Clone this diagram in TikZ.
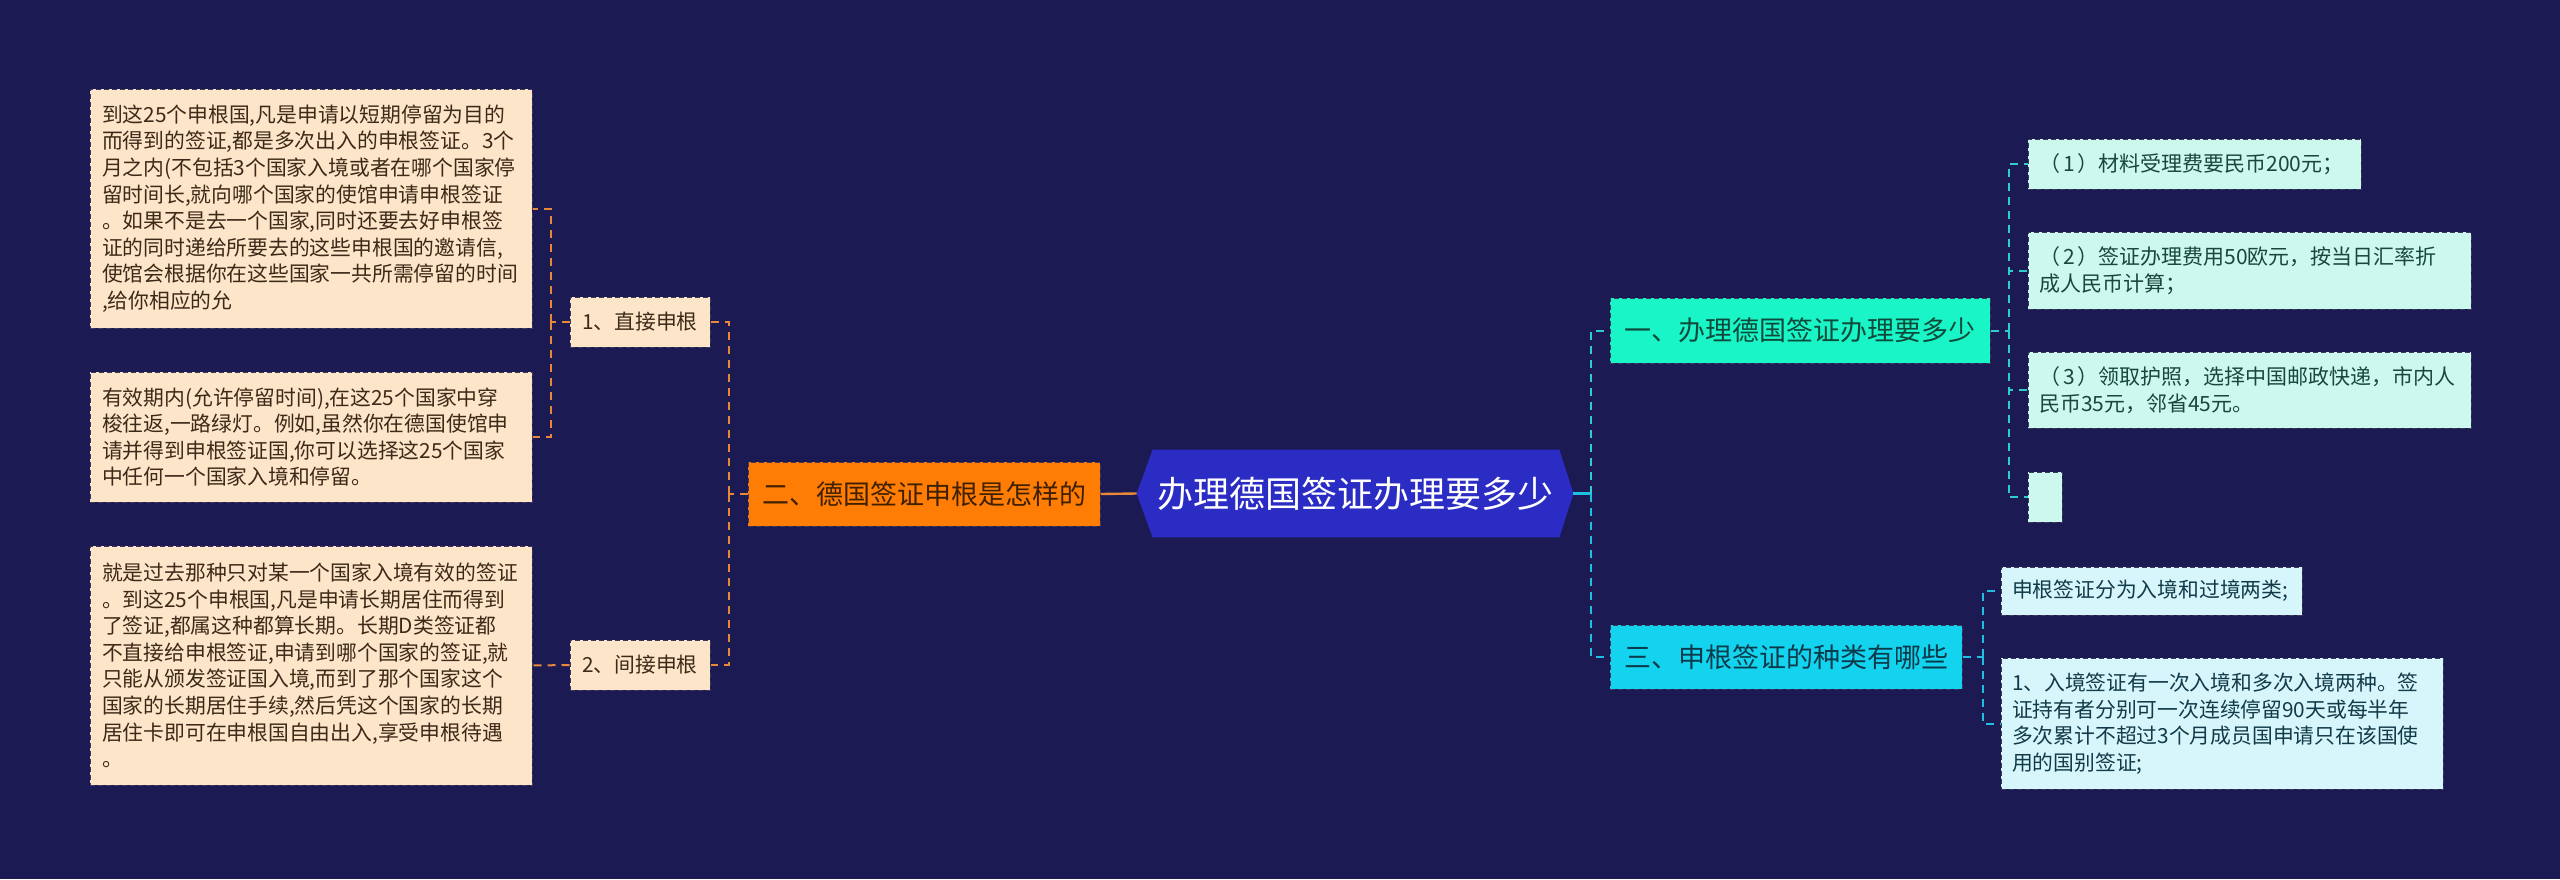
\documentclass[tikz,border=0pt]{standalone}
\usepackage{fontspec}
\setmainfont{Noto Sans CJK SC}
\usetikzlibrary{calc,backgrounds}
\definecolor{bg}{HTML}{1B1A52}
\definecolor{peach}{HTML}{FDE5CA}
\definecolor{peachtxt}{HTML}{3C2A18}
\definecolor{orangefill}{HTML}{FF7D05}
\definecolor{orangetxt}{HTML}{3F2000}
\definecolor{orangeline}{HTML}{E8883A}
\definecolor{centralfill}{HTML}{2A2CC4}
\definecolor{tealfill}{HTML}{1AF5C8}
\definecolor{tealtxt}{HTML}{0E4A3A}
\definecolor{cyanfill}{HTML}{14D3EF}
\definecolor{cyantxt}{HTML}{0B3A4A}
\definecolor{mint}{HTML}{CDF8EE}
\definecolor{minttxt}{HTML}{18483C}
\definecolor{lcyan}{HTML}{D6F6FB}
\definecolor{lcyantxt}{HTML}{123A48}
\definecolor{tealline}{HTML}{2CCFC9}
\definecolor{cyanline}{HTML}{1FBFE3}
\definecolor{bordc}{HTML}{3B3A5E}
\newcommand{\pnum}[1]{（\kern1.5pt#1\kern1.5pt）}
\begin{document}
\begin{tikzpicture}[x=0.5pt,y=-0.5pt,
  boxbase/.style={rectangle, draw=bordc, line width=0.5pt, dash pattern=on 2.5pt off 1.5pt, inner xsep=6pt, inner ysep=0pt, anchor=center},
  pleaf/.style={boxbase, fill=peach, text=peachtxt, align=left, font=\fontsize{10.4}{13.3}\selectfont},
  plevel/.style={boxbase, fill=peach, text=peachtxt, font=\fontsize{10.4}{13.3}\selectfont, minimum width=70pt, minimum height=25pt},
  onode/.style={boxbase, fill=orangefill, text=orangetxt, font=\fontsize{13.5}{16}\selectfont, minimum width=176pt, minimum height=32pt},
  centralnode/.style={rectangle, inner sep=0pt, text=white, font=\fontsize{18}{21}\selectfont, minimum width=218pt, minimum height=43.5pt},
  tnode/.style={boxbase, fill=tealfill, text=tealtxt, font=\fontsize{13.5}{16}\selectfont, minimum width=190pt, minimum height=32.5pt},
  cnode/.style={boxbase, fill=cyanfill, text=cyantxt, font=\fontsize{13.5}{16}\selectfont, minimum width=176pt, minimum height=32pt},
  mleaf/.style={boxbase, fill=mint, text=minttxt, align=left, inner xsep=5.5pt, font=\fontsize{10.5}{13.5}\selectfont},
  cleaf/.style={boxbase, fill=lcyan, text=lcyantxt, align=left, inner xsep=5.5pt, font=\fontsize{10.4}{13.3}\selectfont},
  oline/.style={draw=orangeline, line width=1pt, dash pattern=on 4pt off 3pt},
  olinesolid/.style={draw=orangeline, line width=1.2pt},
  tline/.style={draw=tealline, line width=1pt, dash pattern=on 4pt off 3pt},
  cline/.style={draw=cyanline, line width=1pt, dash pattern=on 4pt off 3pt},
  clinesolid/.style={draw=cyanline, line width=1.2pt}
]
\begin{scope}[on background layer]
\fill[bg] (0,0) rectangle (2560,879);
\end{scope}
\useasboundingbox (0,0) rectangle (2560,879);

% central
\node[centralnode] (c) at (1355,493.5) {办理德国签证办理要多少};
\begin{scope}[on background layer]
\fill[centralfill] (c.west) -- ($(c.north west)+(16,0)$) -- ($(c.north east)+(-14,0)$) -- (c.east) -- ($(c.south east)+(-14,0)$) -- ($(c.south west)+(16,0)$) -- cycle;
\end{scope}

% left branch
\node[onode] (o) at (924,494) {二、德国签证申根是怎样的};
\node[plevel] (d1) at (640,322) {1、直接申根};
\node[plevel] (d2) at (640,665) {2、间接申根};
\node[pleaf, minimum width=221pt, text width=209pt, minimum height=119.5pt] (L1) at (311,208.5) {到这25个申根国,凡是申请以短期停留为目的\\而得到的签证,都是多次出入的申根签证。3个\\月之内(不包括3个国家入境或者在哪个国家停\\留时间长,就向哪个国家的使馆申请申根签证\\。如果不是去一个国家,同时还要去好申根签\\证的同时递给所要去的这些申根国的邀请信,\\使馆会根据你在这些国家一共所需停留的时间\\,给你相应的允};
\node[pleaf, minimum width=221pt, text width=209pt, minimum height=65pt] (L2) at (311,437) {有效期内(允许停留时间),在这25个国家中穿\\梭往返,一路绿灯。例如,虽然你在德国使馆申\\请并得到申根签证国,你可以选择这25个国家\\中任何一个国家入境和停留。};
\node[pleaf, minimum width=221pt, text width=209pt, minimum height=119.5pt] (L3) at (311,665.5) {就是过去那种只对某一个国家入境有效的签证\\。到这25个申根国,凡是申请长期居住而得到\\了签证,都属这种都算长期。长期D类签证都\\不直接给申根签证,申请到哪个国家的签证,就\\只能从颁发签证国入境,而到了那个国家这个\\国家的长期居住手续,然后凭这个国家的长期\\居住卡即可在申根国自由出入,享受申根待遇\\。};

% right branch
\node[tnode] (n1) at (1800,330.5) {一、办理德国签证办理要多少};
\node[cnode] (n3) at (1786,657) {三、申根签证的种类有哪些};
\node[mleaf, minimum width=166.5pt, text width=155.5pt, minimum height=25pt] (r1) at (2194.5,164) {\pnum{1}材料受理费要民币200元；};
\node[mleaf, minimum width=221.5pt, text width=210.5pt, minimum height=38.5pt] (r2) at (2249.5,270.5) {\pnum{2}签证办理费用50欧元，按当日汇率折\\成人民币计算；};
\node[mleaf, minimum width=221.5pt, text width=210.5pt, minimum height=38pt] (r3) at (2249.5,390) {\pnum{3}领取护照，选择中国邮政快递，市内人\\民币35元，邻省45元。};
\node[mleaf, inner sep=0pt, minimum width=17pt, minimum height=25pt] (r4) at (2045,497) {};
\node[cleaf, minimum width=150.5pt, text width=139.5pt, minimum height=24pt] (a1) at (2151.5,591) {申根签证分为入境和过境两类;};
\node[cleaf, minimum width=221pt, text width=210pt, minimum height=65.5pt] (a2) at (2222,723.5) {1、入境签证有一次入境和多次入境两种。签\\证持有者分别可一次连续停留90天或每半年\\多次累计不超过3个月成员国申请只在该国使\\用的国别签证;};

% junctions
\coordinate (jo) at ($(o.west)+(-19,0)$);
\coordinate (jd1) at ($(d1.west)+(-19,0)$);
\coordinate (jc) at ($(c.east)+(18,0)$);
\coordinate (jn1) at ($(n1.east)+(18,0)$);
\coordinate (jn3) at ($(n3.east)+(20,0)$);

% left connectors
\draw[olinesolid] (c.west) -- (o.east);
\draw[oline] (o.west) -- (jo);
\draw[oline] (jo) |- (d1.east);
\draw[oline] (jo) |- (d2.east);
\draw[oline] (d1.west) -- (jd1);
\draw[oline] (jd1) |- (L1.east);
\draw[oline] (jd1) |- (L2.east);
\draw[oline] (d2.west) -- (L3.east);

% right connectors
\draw[clinesolid] (c.east) -- (jc);
\draw[tline] (jc) |- (n1.west);
\draw[cline] (jc) |- (n3.west);
\draw[tline] (n1.east) -- (jn1);
\draw[tline] (jn1) |- (r1.west);
\draw[tline] (jn1) |- (r2.west);
\draw[tline] (jn1) |- (r3.west);
\draw[tline] (jn1) |- (r4.west);
\draw[cline] (n3.east) -- (jn3);
\draw[cline] (jn3) |- (a1.west);
\draw[cline] (jn3) |- (a2.west);
\end{tikzpicture}
\end{document}
